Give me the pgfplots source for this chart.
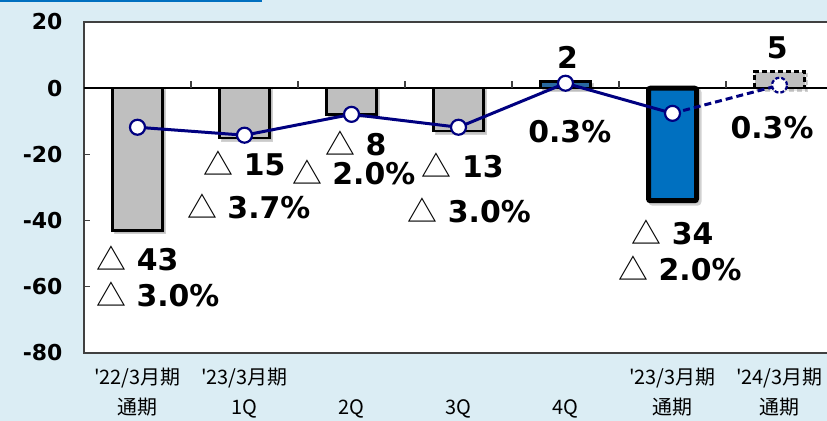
\documentclass[border=0pt]{standalone}
\usepackage{fontspec}
\setmainfont{DejaVu Sans}
\newfontfamily\jp{Noto Sans CJK JP}
\usepackage{pgfplots}
\pgfplotsset{compat=1.18}
\usetikzlibrary{shadows}

\definecolor{bgblue}{RGB}{219,237,244}
\definecolor{barblue}{RGB}{0,112,192}
\definecolor{navyline}{RGB}{0,0,128}
\definecolor{bargray}{RGB}{191,191,191}
\definecolor{smallbar}{RGB}{40,105,160}

\newcommand{\tri}{{\jp\mdseries △}}
\newcommand{\q}{\char39\relax}
\tikzset{lbl/.style={font=\fontsize{30}{32}\selectfont\bfseries, inner sep=0pt}}

\begin{document}
\begin{tikzpicture}
\path[use as bounding box, clip] (0,0) rectangle (827bp,421bp);
\fill[bgblue] (0,0) rectangle (827bp,421bp);
\draw[barblue, line width=2.5bp] (0,420.5bp) -- (262bp,420.5bp);
\begin{axis}[
    at={(84bp,68bp)}, anchor=south west,
    scale only axis,
    width=749bp, height=331bp,
    xmin=-0.5, xmax=6.5,
    ymin=-80, ymax=20,
    axis background/.style={fill=white},
    axis line style={black!75, line width=1.5bp},
    ytick={-80,-60,...,20},
    tick align=inside,
    major tick length=6bp,
    ytick style={black!75, line width=1.2bp},
    yticklabel style={font=\fontsize{22}{24}\selectfont\bfseries, xshift=-18bp},
    /pgf/number format/assume math mode=true,
    xtick={0,...,6},
    xtick style={draw=none},
    xticklabels={
        {\q22/3月期\\通期},
        {\q23/3月期\\1Q},
        {\vphantom{期}\\2Q},
        {\vphantom{期}\\3Q},
        {\vphantom{期}\\4Q},
        {\q23/3月期\\通期},
        {\q24/3月期\\通期}},
    xticklabel style={font=\jp\fontsize{20}{31}\selectfont, align=center, anchor=north, yshift=-11bp},
    clip=false,
]

% quarterly bars
\addplot[ybar, bar width=50bp, bar shift=0pt, fill=bargray, draw=black, line width=2.5bp,
    drop shadow={shadow xshift=2.5bp, shadow yshift=-2.5bp, opacity=0.18}]
    coordinates {(0,-43) (1,-15) (2,-8) (3,-13)};
\addplot[ybar, bar width=50bp, bar shift=0pt, fill=smallbar, draw=black, line width=2.5bp,
    drop shadow={shadow xshift=2.5bp, shadow yshift=-2.5bp, opacity=0.18}]
    coordinates {(4,2)};
% full year
\addplot[ybar, bar width=48bp, bar shift=0pt, fill=barblue, draw=black, line width=5bp, rounded corners=2bp,
    drop shadow={shadow xshift=2.5bp, shadow yshift=-2.5bp, opacity=0.18}]
    coordinates {(5,-34)};
% forecast
\addplot[ybar, bar width=50bp, bar shift=0pt, fill=bargray, draw=black, line width=2.5bp,
    dash pattern=on 5bp off 3bp,
    drop shadow={shadow xshift=2.5bp, shadow yshift=-2.5bp, opacity=0.18}]
    coordinates {(6,5)};

% zero line with ticks
\draw[black, line width=1.5bp] (axis cs:-0.5,0) -- (axis cs:6.5,0);
\pgfplotsinvokeforeach{0.5,1.5,2.5,3.5,4.5,5.5}{
    \draw[black!75, line width=1.2bp] (axis cs:#1,0) -- ([yshift=7bp]axis cs:#1,0);
}

% ratio line
\addplot[navyline, line width=3bp, dash pattern=on 7bp off 4bp,
    mark=*, mark size=7.5bp, mark indices={2},
    mark options={fill=white, line width=2.2bp, dash pattern=on 4bp off 2bp}]
    coordinates {(5,-7.6) (6,0.9)};
\addplot[navyline, line width=3bp,
    mark=*, mark size=7.5bp,
    mark options={fill=white, line width=2.2bp, solid}]
    coordinates {(0,-11.8) (1,-14.2) (2,-7.9) (3,-11.8) (4,1.5) (5,-7.6)};

% data labels
\node[lbl] at (axis cs:0.0,-51.3) {\tri\ 43};
\node[lbl] at (axis cs:0.19,-62.2) {\tri\ 3.0\%};
\node[lbl] at (axis cs:1.0,-22.6) {\tri\ 15};
\node[lbl] at (axis cs:1.04,-35.6) {\tri\ 3.7\%};
\node[lbl] at (axis cs:2.04,-16.6) {\tri\ 8};
\node[lbl] at (axis cs:2.02,-25.5) {\tri\ 2.0\%};
\node[lbl] at (axis cs:3.04,-23.2) {\tri\ 13};
\node[lbl] at (axis cs:3.1,-36.8) {\tri\ 3.0\%};
\node[lbl] at (axis cs:4.02,9.2) {2};
\node[lbl] at (axis cs:4.04,-13) {0.3\%};
\node[lbl] at (axis cs:5.0,-43.5) {\tri\ 34};
\node[lbl] at (axis cs:5.07,-54.3) {\tri\ 2.0\%};
\node[lbl] at (axis cs:5.98,12.1) {5};
\node[lbl] at (axis cs:5.93,-11.8) {0.3\%};
\end{axis}
\end{tikzpicture}
\end{document}
